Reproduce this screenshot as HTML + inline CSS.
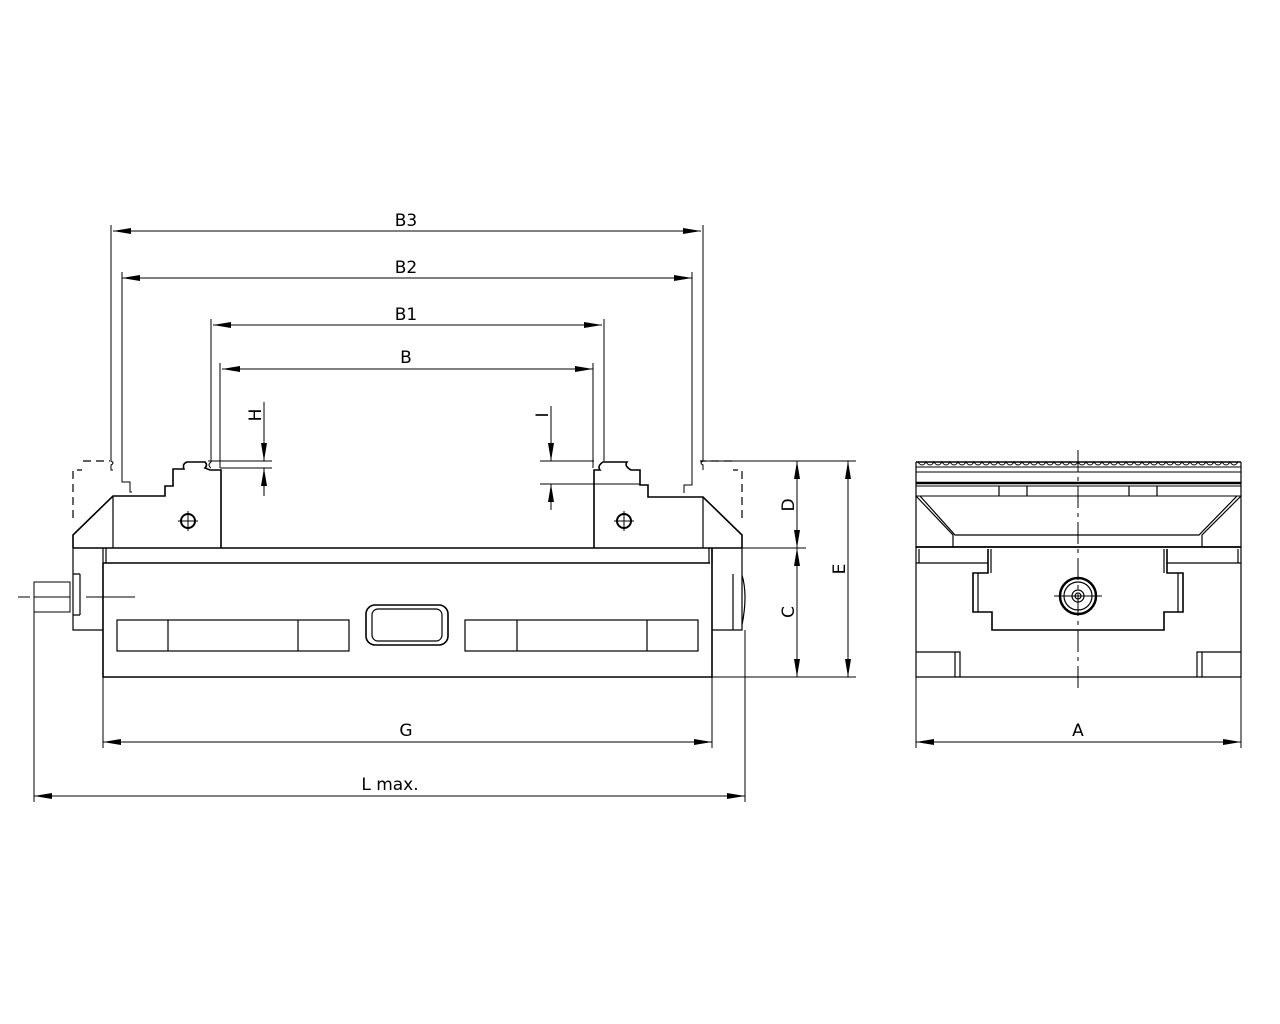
<!DOCTYPE html>
<html><head><meta charset="utf-8"><style>html,body{margin:0;padding:0;background:#fff}svg{display:block}</style></head>
<body>
<svg width="1280" height="1024" viewBox="0 0 1280 1024" xmlns="http://www.w3.org/2000/svg">
<defs>
<marker id="a" viewBox="0 0 18 8" refX="18" refY="4" markerWidth="18" markerHeight="8" markerUnits="userSpaceOnUse" orient="auto-start-reverse"><path d="M0,1 L18,4 L0,7 Z" fill="#000"/></marker>
</defs>
<g fill="none" stroke="#000" stroke-width="1.2" font-family="'DejaVu Sans','Liberation Sans',sans-serif">
<g stroke-width="1">
<line x1="113" y1="231" x2="701" y2="231" marker-start="url(#a)" marker-end="url(#a)"/>
<line x1="122" y1="278" x2="692" y2="278" marker-start="url(#a)" marker-end="url(#a)"/>
<line x1="213" y1="325" x2="602" y2="325" marker-start="url(#a)" marker-end="url(#a)"/>
<line x1="222" y1="369" x2="593" y2="369" marker-start="url(#a)" marker-end="url(#a)"/>
<line x1="103" y1="742" x2="712" y2="742" marker-start="url(#a)" marker-end="url(#a)"/>
<line x1="34" y1="796" x2="745" y2="796" marker-start="url(#a)" marker-end="url(#a)"/>
<line x1="916" y1="742" x2="1241" y2="742" marker-start="url(#a)" marker-end="url(#a)"/>
<line x1="797" y1="461" x2="797" y2="548" marker-start="url(#a)" marker-end="url(#a)"/>
<line x1="797" y1="548" x2="797" y2="677" marker-start="url(#a)" marker-end="url(#a)"/>
<line x1="848" y1="461" x2="848" y2="677" marker-start="url(#a)" marker-end="url(#a)"/>
<line x1="264" y1="402" x2="264" y2="461" marker-end="url(#a)"/>
<line x1="264" y1="496" x2="264" y2="468" marker-end="url(#a)"/>
<line x1="551" y1="406" x2="551" y2="461" marker-end="url(#a)"/>
<line x1="551" y1="510" x2="551" y2="484" marker-end="url(#a)"/>
<path d="M111,225 V461 q4,2 0,4 v5 H113 M122,272 V482 h8 v10 h2"/>
<path d="M211,319 V462 q-4,3 0,6 M220,363 V468"/>
<path d="M703,225 V461 q-4,2 0,4 v5 M692,272 V485 h-8 v8"/>
<path d="M604,319 V461 M593,363 V468"/>
<path d="M208,461 H272 M220,468 H272 M540,461 H594 M540,484 H640"/>
<path d="M700,461 H856 M742,548 H806 M712,677 H856"/>
<path d="M103,677 V748 M712,677 V748 M34,612 V802 M745,630 V802 M916,677 V748 M1241,677 V748"/>
</g>
<g stroke="none" fill="#000" font-size="17">
<text x="406" y="226" text-anchor="middle">B3</text>
<text x="406" y="273" text-anchor="middle">B2</text>
<text x="406" y="320" text-anchor="middle">B1</text>
<text x="406" y="363" text-anchor="middle">B</text>
<text x="406" y="736" text-anchor="middle">G</text>
<text x="390" y="790" text-anchor="middle">L max.</text>
<text x="1078" y="736" text-anchor="middle">A</text>
<text transform="translate(261,415) rotate(-90)" text-anchor="middle">H</text>
<text transform="translate(548,415) rotate(-90)" text-anchor="middle">I</text>
<text transform="translate(794,505) rotate(-90)" text-anchor="middle">D</text>
<text transform="translate(794,612) rotate(-90)" text-anchor="middle">C</text>
<text transform="translate(845,569) rotate(-90)" text-anchor="middle">E</text>
</g>
<path d="M73,518 V470 H82 M83,461 H110" stroke-dasharray="8,5"/>
<path d="M742,518 V470 H733 M732,461 H700" stroke-dasharray="8,5"/>
<path stroke-width="1.6" d="M73,548 V535 L113,496 H165 V486 H173 V469 H184 q-2,-5 3,-7 H205 q3,3 0,6 l5,2 H221 V548"/>
<path d="M113,496 V548"/>
<circle cx="188" cy="521" r="7" stroke-width="2"/>
<path d="M178,521 H198 M188,511 V531" stroke-width="1"/>
<path stroke-width="1.6" d="M594,548 V470 H600 q-3,-4 3,-8 H627 q-3,4 4,8 H640 V485 H648 V497 H703 L742,535 V548"/>
<path d="M703,497 V548"/>
<circle cx="624" cy="521" r="7" stroke-width="2"/>
<path d="M614,521 H634 M624,511 V531" stroke-width="1"/>
<path stroke-width="1.6" d="M73,548 H742 M103,563 H710"/>
<path d="M103,548 V563 M106,548 V563 M709,548 V563 M712,548 V563"/>
<path stroke-width="1.6" d="M103,563 V677 H712 V548"/>
<path d="M73,548 V630 H103 M80,574 V615 M73,574 H80 M73,615 H80"/>
<path d="M742,548 V630 H712 M733,574 V630 M742,575 q6,20 0,50"/>
<path d="M34,582 H70 V612 H34 Z M34,597 H70 M18,597 H30 M86,597 H135" stroke-width="1"/>
<rect x="117" y="620" width="232" height="31"/>
<path d="M168,620 V651 M298,620 V651"/>
<rect x="465" y="620" width="233" height="31"/>
<path d="M517,620 V651 M647,620 V651"/>
<rect x="366" y="605" width="82" height="40" rx="9" stroke-width="1.6"/>
<rect x="372" y="609" width="70" height="32" rx="6"/>
<!-- side view -->
<path d="M916,462 H1241" stroke-width="1.4"/>
<path d="M916,462 V548 M1241,462 V548"/>
<g stroke-width="1">
<path d="M916,467 H1241 M916,472 H1241 M916,486 H1241 M916,496 H1241"/>
<path d="M918,462 q4,6 8,0 q4,6 8,0 q4,6 8,0 q4,6 8,0 q4,6 8,0 q4,6 8,0 q4,6 8,0 q4,6 8,0 q4,6 8,0 q4,6 8,0 q4,6 8,0 q4,6 8,0 q4,6 8,0 q4,6 8,0 q4,6 8,0 q4,6 8,0 q4,6 8,0 q4,6 8,0 q4,6 8,0 q4,6 8,0 q4,6 8,0 q4,6 8,0 q4,6 8,0 q4,6 8,0 q4,6 8,0 q4,6 8,0 q4,6 8,0 q4,6 8,0 q4,6 8,0 q4,6 8,0 q4,6 8,0 q4,6 8,0 q4,6 8,0 q4,6 8,0 q4,6 8,0 q4,6 8,0 q4,6 8,0 q4,6 8,0 q4,6 8,0 q4,6 8,0"/>
</g>
<path d="M916,483 H1241" stroke-width="2.5"/>
<path d="M999,486 V496 M1027,486 V496 M1129,486 V496 M1157,486 V496"/>
<path d="M916,496 L953,535 V547 M1241,496 L1202,535 V547 M920,496 L955,535 H1199 L1237,496"/>
<path d="M916,547 H1241" stroke-width="1.8"/>
<path d="M916,547 V677 H1241 V547"/>
<path d="M919,549 V563 M1238,549 V563 M916,563 H988 M1167,563 H1241"/>
<path d="M988,549 V573 H973 V612 H992 V630 H1164 V612 H1183 V573 H1167 V549" stroke-width="1.6"/>
<path d="M978,573 V612 M1178,573 V612 M991,549 V573 M1164,549 V573"/>
<path d="M916,652 H960 V677 M955,652 V677 M1241,652 H1197 V677 M1202,652 V677"/>
<circle cx="1078" cy="596" r="18" stroke-width="2.5"/>
<circle cx="1078" cy="596" r="14"/>
<circle cx="1078" cy="596" r="6"/>
<circle cx="1078" cy="596" r="3"/>
<path d="M1054,596 H1102" stroke-width="1"/>
<path d="M1078,450 V688" stroke-width="1" stroke-dasharray="22,5,4,5"/>
</g>
</svg>
</body></html>
